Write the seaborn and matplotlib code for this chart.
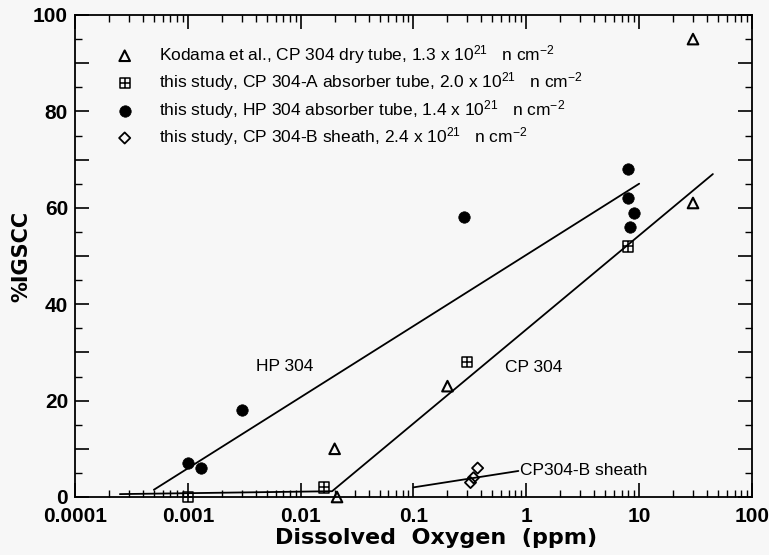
import numpy as np
import matplotlib
matplotlib.use("Agg")
import matplotlib.pyplot as plt
from matplotlib.path import Path
from matplotlib.ticker import LogLocator, MultipleLocator, FuncFormatter, NullFormatter
import seaborn as sns

# --- data -------------------------------------------------------------
kodama_x = [0.021, 0.02, 0.2, 30, 30]
kodama_y = [0, 10, 23, 61, 95]

cpa_x = [0.001, 0.016, 0.3, 8]
cpa_y = [0, 2, 28, 52]

hp_x = [0.001, 0.0013, 0.003, 0.28, 8, 8, 9, 8.3]
hp_y = [7, 6, 18, 58, 68, 62, 59, 56]

cpb_x = [0.32, 0.34, 0.37]
cpb_y = [3, 4, 6]

# trend lines (semi-log)
hp_line_x = [0.0005, 10]
hp_line_y = [1.5, 65]
cp_line_x = [0.00025, 0.019, 45]
cp_line_y = [0.6, 1.2, 67]
cpb_line_x = [0.1, 0.85]
cpb_line_y = [2, 5.4]

legend_labels = [
    r"Kodama et al., CP 304 dry tube, 1.3 x 10$^{21}$   n cm$^{-2}$",
    r"this study, CP 304-A absorber tube, 2.0 x 10$^{21}$   n cm$^{-2}$",
    r"this study, HP 304 absorber tube, 1.4 x 10$^{21}$   n cm$^{-2}$",
    r"this study, CP 304-B sheath, 2.4 x 10$^{21}$   n cm$^{-2}$",
]

x_ticks = [0.0001, 0.001, 0.01, 0.1, 1, 10, 100]
x_tick_labels = ["0.0001", "0.001", "0.01", "0.1", "1", "10", "100"]

# --- style ------------------------------------------------------------
sns.set_theme(style="ticks")
bg = "#f7f7f7"
plt.rcParams.update({
    "font.family": ["Liberation Sans", "DejaVu Sans"],
    "mathtext.fontset": "custom",
    "mathtext.rm": "Liberation Sans",
    "mathtext.it": "Liberation Sans:italic",
    "mathtext.bf": "Liberation Sans:bold",
    "mathtext.default": "regular",
    "axes.edgecolor": "black",
    "axes.linewidth": 1.3,
    "text.color": "black",
    "axes.labelcolor": "black",
    "xtick.color": "black",
    "ytick.color": "black",
    "xtick.labelcolor": "black",
    "ytick.labelcolor": "black",
})

fig = plt.figure(figsize=(7.69, 5.55), dpi=100, facecolor=bg)
ax = fig.add_axes([75 / 769, 1 - 497 / 555, 677 / 769, 482 / 555])
ax.set_facecolor(bg)
ax.set_xscale("log")
ax.set_xlim(1e-4, 100)
ax.set_ylim(0, 100)

# open square with a cross inside
boxplus = Path(
    [(-1, -1), (1, -1), (1, 1), (-1, 1), (-1, -1),
     (0, -1), (0, 1), (-1, 0), (1, 0)],
    [Path.MOVETO, Path.LINETO, Path.LINETO, Path.LINETO, Path.CLOSEPOLY,
     Path.MOVETO, Path.LINETO, Path.MOVETO, Path.LINETO],
)

lw_line = 1.3
for lx, ly in [(hp_line_x, hp_line_y), (cp_line_x, cp_line_y), (cpb_line_x, cpb_line_y)]:
    sns.lineplot(x=lx, y=ly, color="black", linewidth=lw_line, sort=False,
                 estimator=None, legend=False, ax=ax)

sns.scatterplot(x=kodama_x, y=kodama_y, marker="^", s=58, color="black",
                facecolors="none", edgecolor="black", linewidth=1.5,
                label=legend_labels[0], clip_on=False, zorder=4, ax=ax)
sns.scatterplot(x=cpa_x, y=cpa_y, marker=boxplus, s=55, color="black",
                facecolors="none", edgecolor="black", linewidth=1.1,
                label=legend_labels[1], clip_on=False, zorder=4, ax=ax)
sns.scatterplot(x=hp_x, y=hp_y, marker="o", s=68, color="black",
                edgecolor="black", linewidth=0.5,
                label=legend_labels[2], clip_on=False, zorder=4, ax=ax)
sns.scatterplot(x=cpb_x, y=cpb_y, marker="D", s=32, color="black",
                facecolors="none", edgecolor="black", linewidth=1.3,
                label=legend_labels[3], clip_on=False, zorder=4, ax=ax)

# line labels
txt_kw = dict(fontsize=12.5, color="black", family=["Liberation Sans", "DejaVu Sans"])
ax.text(0.004, 27, "HP 304", ha="left", va="center", **txt_kw)
ax.text(0.65, 26.8, "CP 304", ha="left", va="center", **txt_kw)
ax.text(0.87, 5.4, "CP304-B sheath", ha="left", va="center", **txt_kw)

# ticks
ax.set_xticks(x_ticks, x_tick_labels)
ax.xaxis.set_minor_locator(LogLocator(base=10, subs=np.arange(2, 10)))
ax.xaxis.set_minor_formatter(NullFormatter())
ax.yaxis.set_major_locator(MultipleLocator(10))
ax.yaxis.set_minor_locator(MultipleLocator(5))
ax.yaxis.set_major_formatter(FuncFormatter(lambda v, p: f"{v:.0f}" if round(v) % 20 == 0 else ""))
ax.tick_params(which="both", direction="in", top=True, right=True, color="black",
               labelcolor="black")
ax.tick_params(which="major", length=10, width=1.2)
ax.tick_params(which="minor", length=5, width=1.0)
ax.tick_params(axis="x", which="major", pad=7)
ax.tick_params(axis="y", which="major", pad=5)
for lab in ax.get_xticklabels() + ax.get_yticklabels():
    lab.set_fontsize(15)
    lab.set_fontweight("bold")
    lab.set_family(["Liberation Sans", "DejaVu Sans"])

ax.set_xlabel("Dissolved  Oxygen  (ppm)", fontsize=16, fontweight="bold",
              family=["DejaVu Sans"], color="black")
ax.set_ylabel("%IGSCC", fontsize=15, fontweight="bold", family=["DejaVu Sans"],
              color="black")
ax.xaxis.set_label_coords((436 - 75) / 677, -31 / 482)
ax.yaxis.set_label_coords(-44 / 677, 0.5)

handles, labels = ax.get_legend_handles_labels()
leg = ax.legend(handles, labels, loc="upper left",
                bbox_to_anchor=((116 - 75) / 677, 1 - (43 - 15) / 482),
                frameon=False, fontsize=12.5, handlelength=1.0,
                handletextpad=1.45, borderpad=0, borderaxespad=0,
                labelspacing=0.26, scatterpoints=1, labelcolor="black")

fig.savefig("out.png", dpi=100, facecolor=bg)
